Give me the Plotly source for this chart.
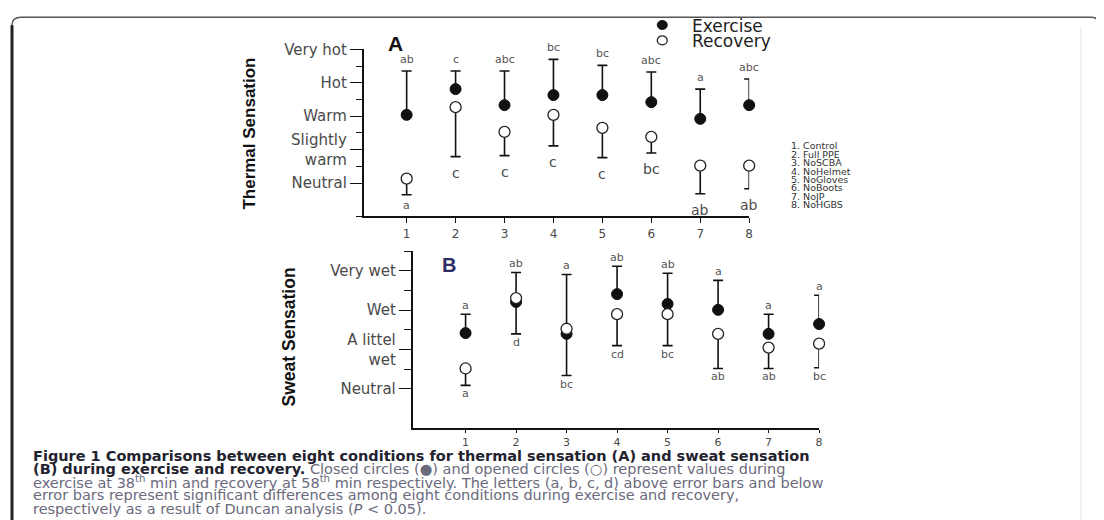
import plotly.graph_objects as go

W, H = 1104, 520

# empirical mapping from wanted screen pixel -> figure paper fraction
X_OFF, X_SCALE = 7.0, 0.9975
Y_OFF, Y_SCALE = 14.5, 0.988


def sx(t):
    return ((t - X_OFF) / X_SCALE) / W


def sy(t):
    return 1 - ((t - Y_OFF) / Y_SCALE) / H


# ---------------- data ----------------
conditions = [1, 2, 3, 4, 5, 6, 7, 8]
condition_names = ["Control", "Full PPE", "NoSCBA", "NoHelmet",
                   "NoGloves", "NoBoots", "NoJP", "NoHGBS"]

thermal_tickvals = [1, 2, 3, 4, 5]
thermal_ticktext = ["Neutral", "Slightly<br>warm", "Warm", "Hot", "Very hot"]
sweat_tickvals = [1, 2, 3, 4]
sweat_ticktext = ["Neutral", "A littel<br>wet", "Wet", "Very wet"]

# Thermal sensation (A)
thermal_ex_mean = [3.04, 3.81, 3.33, 3.63, 3.63, 3.42, 2.92, 3.33]
thermal_ex_err = [1.31, 0.54, 1.02, 1.07, 0.89, 0.90, 0.89, 0.78]
thermal_rec_mean = [1.13, 3.27, 2.53, 3.04, 2.65, 2.38, 1.52, 1.52]
thermal_rec_err = [0.48, 1.48, 0.71, 0.93, 0.89, 0.48, 0.84, 0.69]
thermal_ex_letters = ["ab", "c", "abc", "bc", "bc", "abc", "a", "abc"]
thermal_rec_letters = ["a", "c", "c", "c", "c", "bc", "ab", "ab"]

# Sweat sensation (B)
sweat_ex_mean = [2.42, 3.21, 2.40, 3.41, 3.16, 3.01, 2.40, 2.65]
sweat_ex_err = [0.48, 0.75, 1.51, 0.71, 0.78, 0.75, 0.50, 0.73]
sweat_rec_mean = [1.52, 3.31, 2.53, 2.90, 2.90, 2.40, 2.05, 2.15]
sweat_rec_err = [0.43, 0.91, 1.19, 0.80, 0.80, 0.88, 0.53, 0.61]
sweat_ex_letters = ["a", "ab", "a", "ab", "ab", "a", "a", "a"]
sweat_rec_letters = ["a", "d", "bc", "cd", "bc", "ab", "ab", "bc"]

BOLD_OPEN = "<span style='color:#23232f;font-size:14.5px'><b>"
BOLD_CLOSE = "</b></span>"
caption_lines = [
    BOLD_OPEN + "Figure 1 Comparisons between eight conditions for thermal sensation (A) and sweat sensation" + BOLD_CLOSE,
    BOLD_OPEN + "(B) during exercise and recovery." + BOLD_CLOSE
    + " Closed circles (\u25cf) and opened circles (\u25cb) represent values during",
    "exercise at 38<sup>th</sup> min and recovery at 58<sup>th</sup> min respectively. The letters (a, b, c, d) above error bars and below",
    "error bars represent significant differences among eight conditions during exercise and recovery,",
    "respectively as a result of Duncan analysis (<i>P</i> &lt; 0.05).",
]

# ---------------- styles ----------------
TICKFONT = dict(family="DejaVu Sans, Liberation Sans, sans-serif", size=15, color="#4a4a4a")
LETTERFONT_S = dict(family="DejaVu Sans, sans-serif", size=11, color="#555555")
LETTERFONT_L = dict(family="DejaVu Sans, sans-serif", size=14, color="#4a4a4a")
TITLEFONT = dict(family="Liberation Sans Narrow, Liberation Sans, Arial, sans-serif",
                 size=17, color="#111111", weight="bold")

fig = go.Figure()


def add_panel(xa, ya, ex_mean, ex_err, rec_mean, rec_err):
    zeros = [0] * len(conditions)
    fig.add_trace(go.Scatter(
        x=conditions, y=ex_mean, mode="markers", xaxis=xa, yaxis=ya,
        marker=dict(color="#111111", size=11, line=dict(color="#111111", width=1)),
        error_y=dict(type="data", symmetric=False, array=ex_err, arrayminus=zeros,
                     color="#111111", thickness=1.6, width=5),
        showlegend=False, cliponaxis=False, hoverinfo="skip"))
    fig.add_trace(go.Scatter(
        x=conditions, y=rec_mean, mode="markers", xaxis=xa, yaxis=ya,
        marker=dict(color="white", size=11, line=dict(color="#222222", width=1.3)),
        error_y=dict(type="data", symmetric=False, array=zeros, arrayminus=rec_err,
                     color="#111111", thickness=1.6, width=5),
        showlegend=False, cliponaxis=False, hoverinfo="skip"))


add_panel("x", "y", thermal_ex_mean, thermal_ex_err, thermal_rec_mean, thermal_rec_err)
add_panel("x2", "y2", sweat_ex_mean, sweat_ex_err, sweat_rec_mean, sweat_rec_err)

annotations = []

# letters panel A
for c, m, e, t in zip(conditions, thermal_ex_mean, thermal_ex_err, thermal_ex_letters):
    annotations.append(dict(x=c, y=m + e, xref="x", yref="y", text=t, showarrow=False,
                            yanchor="bottom", yshift=3, font=LETTERFONT_S))
for c, m, e, t in zip(conditions, thermal_rec_mean, thermal_rec_err, thermal_rec_letters):
    small = (c == 1)
    annotations.append(dict(x=c, y=m - e, xref="x", yref="y", text=t, showarrow=False,
                            yanchor="top", yshift=-2 if small else -6,
                            font=LETTERFONT_S if small else LETTERFONT_L))
# letters panel B
for c, m, e, t in zip(conditions, sweat_ex_mean, sweat_ex_err, sweat_ex_letters):
    annotations.append(dict(x=c, y=m + e, xref="x2", yref="y2", text=t, showarrow=False,
                            yanchor="bottom", yshift=0, font=LETTERFONT_S))
for c, m, e, t in zip(conditions, sweat_rec_mean, sweat_rec_err, sweat_rec_letters):
    annotations.append(dict(x=c, y=m - e, xref="x2", yref="y2", text=t, showarrow=False,
                            yanchor="top", yshift=0, font=LETTERFONT_S))


def paper_text(x, y, text, font, xanchor="center", textangle=0):
    annotations.append(dict(x=sx(x), y=sy(y), xref="paper", yref="paper", text=text,
                            xanchor=xanchor, yanchor="middle", textangle=textangle,
                            showarrow=False, font=font))


# panel labels
paper_text(395, 41, "<b>A</b>", dict(family="Liberation Sans, Arial, sans-serif", size=21, color="#111111"))
paper_text(448, 264, "<b>B</b>", dict(family="Liberation Sans, Arial, sans-serif", size=20, color="#2e2e66"))

# axis titles
paper_text(249, 132, "Thermal Sensation", TITLEFONT, textangle=-90)
paper_text(288, 336, "Sweat Sensation", dict(TITLEFONT, size=17.5), textangle=-90)

# legend
LEGFONT = dict(family="DejaVu Sans, sans-serif", size=17, color="#222222")
paper_text(690, 23.5, "Exercise", LEGFONT, xanchor="left")
paper_text(690, 39, "Recovery", LEGFONT, xanchor="left")

# condition list
LISTFONT = dict(family="DejaVu Sans, sans-serif", size=9.5, color="#333333")
for i, (c, name) in enumerate(zip(conditions, condition_names)):
    paper_text(789, 144 + i * 8.45, f"{c}. {name}", LISTFONT, xanchor="left")

# caption
CAPFONT = dict(family="DejaVu Sans, sans-serif", size=14.5, color="#6a6a7c")
cap_y = [455.5, 469, 482.5, 495.5, 509]
for yy, line in zip(cap_y, caption_lines):
    paper_text(30, yy, line, CAPFONT, xanchor="left")

shapes = [
    # legend symbols
    dict(type="circle", xref="paper", yref="paper", xsizemode="pixel", ysizemode="pixel",
         xanchor=sx(662), yanchor=sy(22.5), x0=-5, x1=5, y0=-4.5, y1=4.5,
         fillcolor="#111111", line=dict(color="#111111", width=1)),
    dict(type="circle", xref="paper", yref="paper", xsizemode="pixel", ysizemode="pixel",
         xanchor=sx(662), yanchor=sy(38), x0=-5, x1=5, y0=-4.5, y1=4.5,
         fillcolor="white", line=dict(color="#222222", width=1.3)),
    # outer frame
    dict(type="path", xref="paper", yref="paper",
         path=f"M {sx(11)},0 L {sx(11)},0.984 Q {sx(11)},0.9995 {sx(20)},0.9995 "
              f"L {sx(1091)},0.9995 Q {sx(1099)},0.9995 {sx(1099)},0.985",
         line=dict(color="#555555", width=1.5)),
    dict(type="line", xref="paper", yref="paper", x0=sx(11), x1=sx(11), y0=0, y1=0.984,
         line=dict(color="#222222", width=3)),
    dict(type="line", xref="paper", yref="paper", x0=sx(1081), x1=sx(1081), y0=0, y1=0.98,
         line=dict(color="#e6e6e6", width=1)),
]

axis_common = dict(showgrid=False, zeroline=False, showline=True, linecolor="#111111",
                   linewidth=1.5, ticks="outside", tickcolor="#111111", tickwidth=1.3)

fig.update_layout(
    width=W, height=H, autosize=False,
    margin=dict(l=0, r=0, t=0, b=0),
    paper_bgcolor="white", plot_bgcolor="rgba(0,0,0,0)",
    showlegend=False,
    xaxis=dict(domain=[sx(363), sx(749)], range=[0.12, 8], anchor="y",
               tickvals=conditions, ticklen=5, tickfont=dict(TICKFONT, size=12), **axis_common),
    yaxis=dict(domain=[sy(215), sy(47)], range=[0, 5], anchor="x",
               tickvals=thermal_tickvals, ticktext=thermal_ticktext, ticklen=12,
               tickfont=TICKFONT,
               minor=dict(tickvals=[0, 1.5, 2.5, 3.5, 4.5], ticks="outside", ticklen=6,
                          tickcolor="#111111", tickwidth=1.3, showgrid=False),
               **axis_common),
    xaxis2=dict(domain=[sx(412), sx(819)], range=[-0.05, 8], anchor="y2",
                tickvals=conditions, ticklen=3, tickfont=dict(TICKFONT, size=11), **axis_common),
    yaxis2=dict(domain=[sy(428), sy(250)], range=[0, 4.5], anchor="x2",
                tickvals=sweat_tickvals, ticktext=sweat_ticktext, ticklen=12,
                tickfont=TICKFONT,
                minor=dict(tickvals=[1.5, 2.5, 3.5, 4.5], ticks="outside", ticklen=7,
                           tickcolor="#111111", tickwidth=1.3, showgrid=False),
                **axis_common),
    annotations=annotations,
    shapes=shapes,
)

fig.write_html("out.html")
